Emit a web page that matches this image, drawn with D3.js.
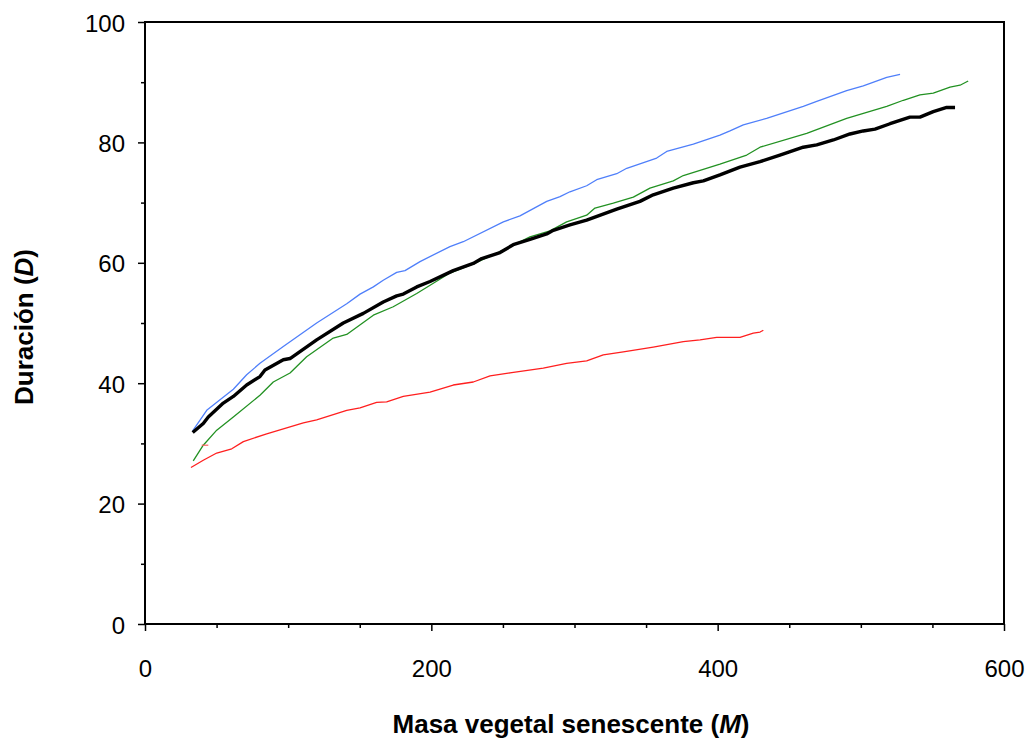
<!DOCTYPE html>
<html><head><meta charset="utf-8">
<script src="https://cdn.jsdelivr.net/npm/d3@7"></script>
<style>body{margin:0;background:#fff;} svg{display:block;font-family:"Liberation Sans",Arial,sans-serif;}</style>
</head><body>
<svg id="chart" width="1028" height="738"></svg>
<script>
// ---- data ----
const blackM = [33.3,40.7,44.2,54.7,61.7,71.0,80.3,83.8,96.6,101.3,119.9,138.5,152.5,166.4,175.8,180.4,189.8,199.1,215.3,229.3,235.2,248.0,257.2,268.9,280.6,285.2,296.8,308.5,329.5,345.7,355.0,369.0,383.0,390.0,401.6,415.6,429.6,443.5,459.8,469.2,480.8,492.4,501.7,509.9,520.4,534.3,541.3,550.6,560.0,565.8];
const blackD = [31.8,33.3,34.4,36.7,37.8,39.7,41.1,42.2,43.9,44.1,47.2,50.0,51.6,53.5,54.5,54.8,56.0,56.9,58.7,59.9,60.7,61.7,63.0,63.9,64.8,65.4,66.3,67.1,68.9,70.2,71.3,72.4,73.3,73.6,74.6,75.9,76.8,77.9,79.2,79.6,80.4,81.4,81.9,82.2,83.1,84.2,84.2,85.1,85.8,85.8];
const blueM = [33.3,43.1,61.7,71.0,80.3,96.6,119.9,140.9,150.2,159.5,166.4,175.8,181.6,192.1,213.0,222.3,250.3,261.9,280.6,289.9,296.8,308.5,315.5,329.5,336.5,357.4,364.4,383.0,401.6,408.6,417.9,434.2,459.8,469.2,490.1,501.7,518.1,527.4];
const blueD = [32.1,35.5,39.0,41.4,43.3,46.1,50.0,53.2,54.8,56.0,57.1,58.4,58.7,60.2,62.7,63.5,66.8,67.8,70.2,71.0,71.8,72.8,73.8,74.8,75.7,77.4,78.5,79.7,81.2,81.9,82.9,84.0,86.0,86.8,88.6,89.4,90.8,91.3];
const greenM = [33.7,40.7,50.1,61.7,80.3,89.6,101.3,112.9,131.5,140.9,159.5,173.4,189.8,213.0,229.3,250.3,268.9,282.9,294.5,308.5,314.3,327.1,341.1,352.7,369.0,376.0,401.6,420.3,429.6,462.2,490.1,518.1,529.7,541.3,550.6,562.3,569.3,575.0];
const greenD = [27.1,29.7,32.2,34.4,38.0,40.2,41.7,44.4,47.5,48.1,51.3,52.7,54.9,58.3,59.8,62.1,64.3,65.3,66.8,67.9,69.1,69.9,70.9,72.4,73.6,74.5,76.4,77.9,79.2,81.5,84.0,86.0,87.0,87.9,88.2,89.2,89.5,90.2];
const redM = [32.1,40.7,50.1,60.6,68.7,85.0,110.6,119.9,140.9,150.2,161.8,168.8,180.4,199.1,215.3,229.3,241.0,254.9,278.2,294.5,308.5,320.1,334.1,355.0,376.0,387.7,399.3,415.6,424.9,429.6,431.9];
const redD = [26.0,27.2,28.4,29.1,30.3,31.6,33.4,33.9,35.5,35.9,36.8,36.9,37.8,38.5,39.7,40.2,41.2,41.7,42.5,43.3,43.7,44.7,45.2,46.0,46.9,47.2,47.6,47.6,48.3,48.5,48.8];
const dashM = [39.6,44.2];
const dashD = [29.7,29.7];
const xTicks = [0,200,400,600];
const xMinor = [50,100,150,250,300,350,450,500,550];
const yTicks = [0,20,40,60,80,100];
const yMinor = [10,30,50,70,90];

// ---- layout ----
const svg = d3.select("#chart");
const L = 145, R = 1004, T = 22, B = 624;
const x = d3.scaleLinear().domain([0,600]).range([L,R]);
const y = d3.scaleLinear().domain([0,100]).range([B,T]);

const zip = (a,b) => a.map((v,i)=>[v,b[i]]);
const line = d3.line().x(d=>x(d[0])).y(d=>y(d[1]));

const series = [
  {m:greenM, d:greenD, color:"#229122", w:1.3},
  {m:redM, d:redD, color:"#ff1f1f", w:1.3},
  {m:blueM, d:blueD, color:"#4f7ffa", w:1.3},
  {m:blackM, d:blackD, color:"#000", w:3.4},
  {m:dashM, d:dashD, color:"#ff6060", w:1.2}
];
series.forEach(s=>{
  svg.append("path").attr("d", line(zip(s.m,s.d))).attr("fill","none")
    .attr("stroke", s.color).attr("stroke-width", s.w)
    .attr("stroke-linejoin","round").attr("stroke-linecap","butt");
});

// frame
svg.append("rect").attr("x",L).attr("y",T).attr("width",R-L).attr("height",B-T)
  .attr("fill","none").attr("stroke","#000").attr("stroke-width",2);

// x axis
const xAx = svg.append("g").attr("transform",`translate(0,${B})`)
  .call(d3.axisBottom(x).tickValues(xTicks).tickSize(7).tickFormat(d3.format("d")));
const xAxMin = svg.append("g").attr("transform",`translate(0,${B})`)
  .call(d3.axisBottom(x).tickValues(xMinor).tickSize(4).tickFormat(""));
// y axis
const yAx = svg.append("g").attr("transform",`translate(${L},0)`)
  .call(d3.axisLeft(y).tickValues(yTicks).tickSize(7).tickFormat(d3.format("d")));
const yAxMin = svg.append("g").attr("transform",`translate(${L},0)`)
  .call(d3.axisLeft(y).tickValues(yMinor).tickSize(4).tickFormat(""));

[xAx,xAxMin,yAx,yAxMin].forEach(g=>{
  g.select(".domain").remove();
  g.selectAll(".tick line").attr("stroke","#000").attr("stroke-width",1.5);
  g.selectAll("text").attr("fill","#000").style("font-size","24px")
    .style("font-family",'"Liberation Sans",Arial,sans-serif');
});
xAx.selectAll("text").attr("y",null).attr("dy",null).attr("transform","translate(0,53)");
yAx.selectAll("text").attr("x",-20).attr("dy","0.38em");

// titles
const xt = svg.append("text").attr("x",571).attr("y",733).attr("text-anchor","middle")
  .style("font-size","26px").style("font-weight","bold");
xt.append("tspan").text("Masa vegetal senescente (");
xt.append("tspan").style("font-style","italic").text("M");
xt.append("tspan").text(")");

const yt = svg.append("text").attr("transform","translate(33,327) rotate(-90)")
  .attr("text-anchor","middle").style("font-size","26px").style("font-weight","bold");
yt.append("tspan").text("Duración (");
yt.append("tspan").style("font-style","italic").text("D");
yt.append("tspan").text(")");
</script>
</body></html>
